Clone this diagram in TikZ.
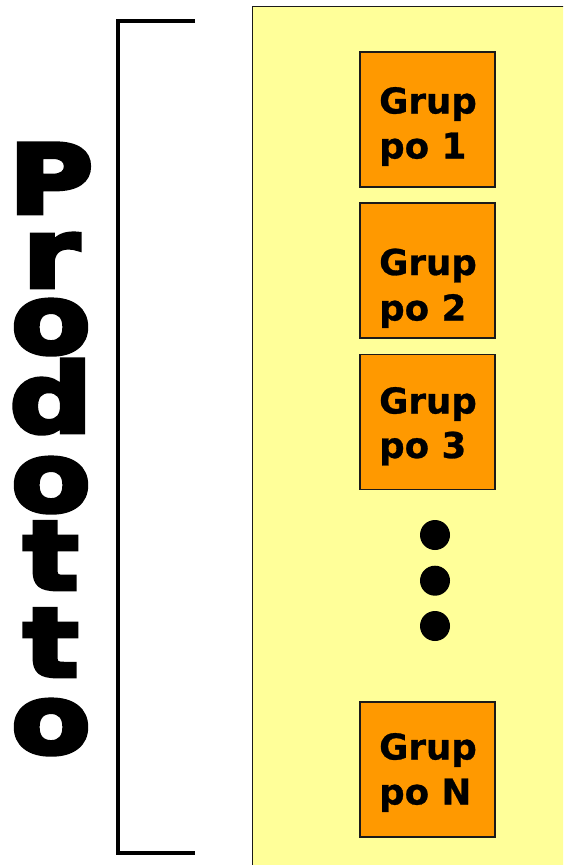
\documentclass[tikz,border=0pt]{standalone}
\usepackage{fontspec}
\setmainfont{DejaVu Sans}
\newfontfamily\heavy[UprightFont=* Bold, FakeBold=5, FakeStretch=1.22]{DejaVu Sans}
\newfontfamily\boxfont[UprightFont=* Bold, FakeBold=0.8]{DejaVu Sans}
\definecolor{bgyellow}{HTML}{FFFF99}
\definecolor{boxorange}{HTML}{FF9900}
\definecolor{edge}{HTML}{1A1A1A}
\tikzset{
  gbox/.style={draw=edge, fill=boxorange, line width=1.5pt, minimum width=135pt, minimum height=135pt, inner sep=0pt},
  gtext/.style={anchor=base west, inner sep=0pt, font=\fontsize{35.6}{45}\selectfont\boxfont},
  heavyl/.style={anchor=base, inner sep=0pt, text height=50pt, text depth=0pt, font=\fontsize{95}{100}\selectfont\heavy},
  dotc/.style={circle, fill=black, minimum size=30pt, inner sep=0pt},
}
\begin{document}
\begin{tikzpicture}[x=1pt,y=-1pt]
\useasboundingbox (0,0) rectangle (563,865);
\clip (0,0) rectangle (563,865);
% background panel
\filldraw[fill=bgyellow, draw=edge, line width=1.5pt] (252.5,6.5) rectangle (580,885);
% bracket
\coordinate (bt) at (195,21);
\coordinate (bb) at (195,853);
\draw[line width=4pt] (bt) -- (117.5,21) -- (117.5,853) -- (bb);
% vertical word
\node[heavyl] (l1) at (51,213) {P};
\node[heavyl] (l2) at (51,287) {r};
\node[heavyl] (l3) at (51,353) {o};
\node[heavyl] (l4) at (51,432) {d};
\node[heavyl] (l5) at (51,511) {o};
\node[heavyl] (l6) at (51,589) {t};
\node[heavyl] (l7) at (51,676) {t};
\node[heavyl] (l8) at (51,753) {o};
% boxes
\node[gbox] (g1) at (427.5,119.7) {};
\node[gbox] (g2) at (427.5,270.7) {};
\node[gbox] (g3) at (427.5,422) {};
\node[gbox] (gN) at (427.5,769.7) {};
\node[gtext] (g1a) at (379,113.5) {Grup};
\node[gtext] (g1b) at (379,158.5) {po 1};
\node[gtext] (g2a) at (379,275) {Grup};
\node[gtext] (g2b) at (379,320.5) {po 2};
\node[gtext] (g3a) at (379,413.5) {Grup};
\node[gtext] (g3b) at (379,458) {po 3};
\node[gtext] (gNa) at (379,759.5) {Grup};
\node[gtext] (gNb) at (379,804.5) {po N};
% dots
\node[dotc] (d1) at (435,535) {};
\node[dotc] (d2) at (435,580.7) {};
\node[dotc] (d3) at (435,626) {};
\end{tikzpicture}
\end{document}
